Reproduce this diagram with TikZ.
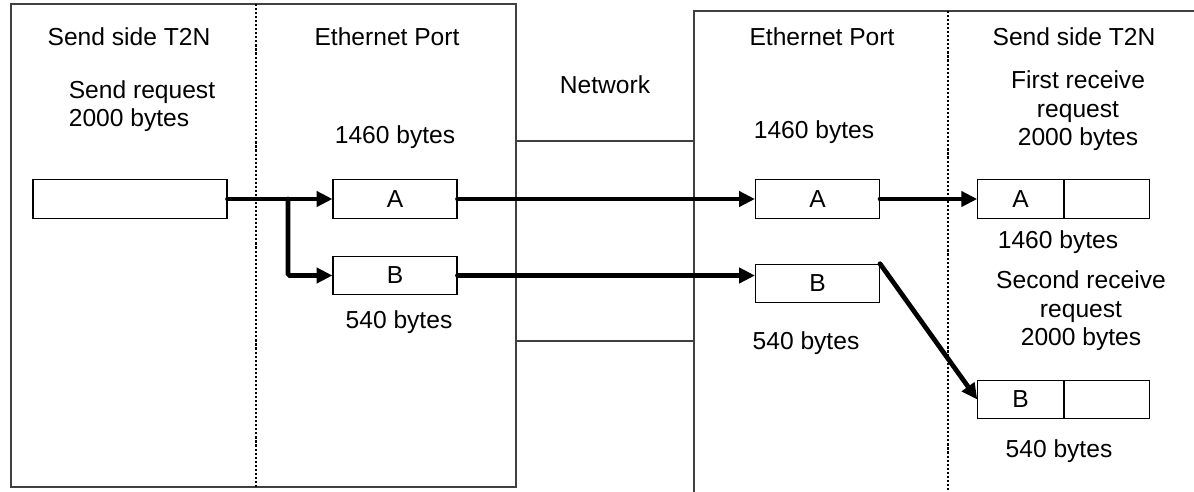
\documentclass[tikz,border=0pt]{standalone}
\usepackage{fontspec}
\setmainfont{Liberation Sans}
\usepackage{tikz}
\usetikzlibrary{arrows.meta,positioning}

\begin{document}
\begin{tikzpicture}[x=0.02cm, y=-0.02cm, >={Triangle[length=9pt,width=8.5pt]},
    every node/.style={font=\fontsize{14}{16.2}\selectfont},
    panel/.style={draw=black!75, line width=0.6pt},
    divider/.style={line width=1.4pt, dash pattern=on 1.2pt off 1.1pt},
    segbox/.style={draw, line width=0.6pt, minimum width=2.48cm,
        minimum height=0.77cm, inner sep=0pt},
    halfbox/.style={draw, line width=0.6pt, minimum width=1.71cm,
        minimum height=0.77cm, inner sep=0pt},
    flow/.style={->, line width=2.7pt, line cap=round}]
\useasboundingbox (0,0) rectangle (1194,491);

% sending host and receiving host
\draw[panel] (11,4) rectangle (516,487);
\draw[panel] (1200,11) -- (694,11) -- (694,500);
\draw[divider] (256,4) -- (256,487);
\draw[divider] (948,11) -- (948,500);

% network between the two ports
\coordinate (netLT) at (516,141);
\coordinate (netRT) at (694,141);
\coordinate (netLB) at (516,341);
\coordinate (netRB) at (694,341);
\draw[panel] (netLT) -- (netRT);
\draw[panel] (netLB) -- (netRB);
\node (net) at (605,85) {Network};

% send side
\node (sendT2N) at (129,37) {Send side T2N};
\node (sendPort) at (387,37) {Ethernet Port};
\node[align=left] (sendReq) at (142,106) {Send request\\2000 bytes};
\node[draw, line width=0.6pt, minimum width=3.88cm, minimum height=0.78cm,
    inner sep=0pt] (src) at (130,199) {};
\node[segbox] (pa) at (395,199) {A};
\node[segbox] (pb) at (395,275.5) {B};
\node (paLen) at (395,137) {1460 bytes};
\node (pbLen) at (399,322) {540 bytes};

% receive side
\node (recvPort) at (822,37) {Ethernet Port};
\node (recvT2N) at (1074,37) {Send side T2N};
\node[segbox] (ra) at (817.5,199) {A};
\node[segbox] (rb) at (817.5,283.5) {B};
\node (raLen) at (814,132) {1460 bytes};
\node (rbLen) at (806,343) {540 bytes};

\node[align=center] (firstReq) at (1078,111) {First receive\\request\\2000 bytes};
\node[halfbox] (bufA) at (1020.5,199) {A};
\node[halfbox, right=0pt of bufA] (bufAfree) {};
\node (bufALen) at (1058,242) {1460 bytes};

\node[align=center] (secondReq) at (1081,311) {Second receive\\request\\2000 bytes};
\node[halfbox] (bufB) at (1020.5,399.5) {B};
\node[halfbox, right=0pt of bufB] (bufBfree) {};
\node (bufBLen) at (1059,451) {540 bytes};

% data flow
\coordinate (fork) at (288,199);
\draw[flow] (src) -- (pa);
\draw[flow, rounded corners=1pt] (fork) |- (pb.west);
\draw[flow] (pa) -- (ra);
\draw[flow] (ra) -- (bufA);
\draw[flow] (pb.east) -- (pb.east -| rb.west);
\draw[flow] (rb.north east) -- (bufB.west);
\end{tikzpicture}
\end{document}
